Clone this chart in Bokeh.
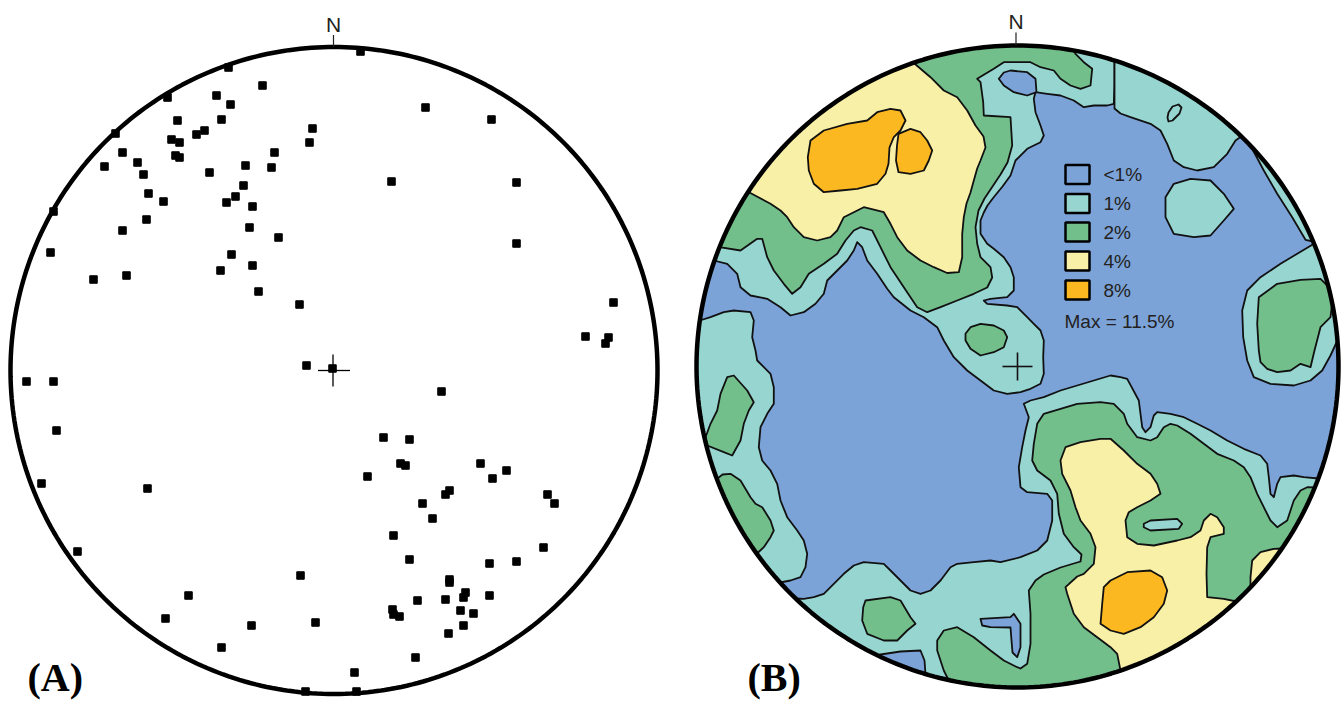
import math
import numpy as np
from bokeh.plotting import figure
from bokeh.models import Range1d, ColumnDataSource
from bokeh.core.properties import value
from bokeh.embed import file_html
from bokeh.resources import INLINE

# ---------------- geometry of the two nets (reference pixel space) ----------------
NET_A = (333.5, 370.0, 323.5)      # cx, cy, radius
NET_B = (1017.0, 366.0, 321.0)

# ---------------- panel A: poles ----------------
POLES_NW = [(262, 85), (216, 95), (230, 104), (177, 120), (221, 119), (204, 130), (196, 134),
            (171, 139), (179, 142), (175, 155), (179, 157), (312, 128), (309, 142), (122, 152),
            (104, 166), (137, 162), (143, 174), (209, 172), (245, 165), (274, 152), (271, 167),
            (243, 185), (235, 196), (226, 202), (252, 206), (148, 193), (163, 201), (146, 219),
            (249, 227), (278, 237), (122, 230), (50, 252), (231, 254), (252, 265), (220, 270),
            (93, 279), (126, 275), (258, 291), (299, 304), (228, 67), (167, 97), (115, 133),
            (53, 211)]
POLES_NE = [(360, 51), (425, 107), (491, 119), (391, 181), (516, 182), (516, 243), (613, 302),
            (585, 336), (608, 337), (605, 343)]
POLES_SW = [(306, 365), (332, 368), (26, 381), (53, 381), (56, 430), (41, 483), (147, 488),
            (77, 551), (300, 575), (188, 595), (165, 618), (251, 625), (315, 622), (221, 647),
            (305, 691)]
POLES_SE = [(441, 391), (383, 437), (409, 439), (400, 463), (405, 465), (367, 476), (480, 463),
            (506, 470), (492, 478), (449, 490), (445, 494), (422, 503), (432, 518), (547, 494),
            (554, 503), (393, 535), (409, 559), (543, 547), (489, 563), (516, 561), (449, 579),
            (449, 582), (465, 592), (463, 597), (417, 600), (445, 599), (489, 595), (392, 609),
            (399, 616), (393, 614), (460, 610), (473, 613), (463, 625), (448, 633), (415, 657),
            (354, 672), (356, 691)]

# ---------------- panel B: contour levels ----------------
LEVELS = ["<1%", "1%", "2%", "4%", "8%"]
LEVEL_COLORS = ["#7ba3d8", "#97d5d0", "#72bf8b", "#f9f0a8", "#fbb820"]
MAX_LABEL = "Max = 11.5%"

TEAL_A = [(713.3, 260), (726.7, 263.3), (736.7, 273.3), (740, 286.7), (750, 295), (766.7, 298.3),
          (780, 306.7), (790, 315), (803.3, 311.7), (815, 303.3), (823.3, 293.3), (826.7, 280),
          (836.7, 270), (846.7, 260), (853.3, 250), (856.7, 241.7), (861.7, 246.7), (866.7, 260),
          (876.7, 273.3), (886.7, 288.3), (893.3, 296.7), (910, 310), (923.3, 316.7), (936.7, 326.7),
          (943.3, 340), (953.3, 356.7), (966.7, 370), (980, 380), (993.3, 390), (1006.7, 393.3),
          (1020, 391.7), (1030, 388.3), (1040, 383.3), (1043.3, 373.3), (1042.7, 356.7),
          (1043.3, 340), (1040, 330), (1033.3, 323.3), (1026.7, 316.7), (1016.7, 306.7),
          (1006.7, 305), (986.7, 303.3), (983.3, 300), (990, 298.3), (1006.7, 296.7), (1013.3, 290),
          (1013.3, 276.7), (1010, 266.7), (1003.3, 256.7), (993.3, 248.3), (986.7, 243.3),
          (980, 233.3), (980, 220), (983.3, 212), (987, 205), (993, 197), (1002, 186), (1010, 175),
          (1015, 160), (1026.7, 148.3), (1040, 141.7), (1043.3, 135), (1040, 125), (1035, 111.7),
          (1033.3, 98.3), (1035, 91.7), (1046.7, 93.3), (1060, 95), (1073.3, 100), (1083.3, 106.7),
          (1093.3, 105), (1106.7, 105), (1113.3, 103.3), (1114, 85), (1114, 60)]
TEAL_B = [(1114, 60), (1114, 85), (1114, 108), (1120, 113), (1130, 116.7), (1150, 123.3),
          (1160, 130), (1166.7, 143.3), (1173.3, 160), (1183.3, 166.7), (1196.7, 170),
          (1213.3, 166.7), (1226.7, 153.3), (1235, 140), (1240, 136.5)]
TEAL_B_DROP = [(1168, 112), (1172, 106), (1178, 104), (1181, 107), (1179, 113), (1172, 120),
               (1168, 121), (1167, 117)]
TEAL_C = [(1165, 196.7), (1173.3, 183.3), (1190, 178.3), (1210, 180), (1223.3, 193.3),
          (1233.3, 208.3), (1223.3, 220), (1210, 235), (1193.3, 236.7), (1173.3, 233.3), (1165, 216.7)]
TEAL_D = [(1250.5, 146), (1263.3, 170), (1276.7, 193.3), (1291.7, 216.7), (1305, 239.3),
          (1312.7, 241)]
TEAL_E = [(1313.5, 243.3), (1296.7, 253.3), (1280, 263.3), (1260, 276.7), (1246.7, 290),
          (1241.7, 310), (1242.7, 336.7), (1246.7, 360), (1253.3, 376.7), (1270, 383.3),
          (1293.3, 385), (1310, 380), (1321.7, 370), (1330, 355), (1336.9, 340)]
TEAL_F = [(795.5, 598), (803.3, 598.3), (813.3, 596.7), (823.3, 593.3), (833.3, 583.3),
          (843.3, 573.3), (853.3, 565), (863.3, 561.7), (883.3, 563.3), (890, 570), (900, 580),
          (910, 590), (920, 593.3), (930, 590), (940, 580), (950, 566.7), (956.7, 563.3),
          (973.3, 561.7), (990, 560), (1000, 561.7), (1020, 556.7), (1036.7, 550), (1046.7, 540),
          (1051.7, 520), (1051.7, 500), (1046.7, 493.3), (1026.7, 491.7), (1020, 486.7),
          (1018.3, 466.7), (1021.7, 446.7), (1025, 430), (1028.3, 416.7), (1023.3, 403.3),
          (1030, 400), (1043.3, 396.7), (1060, 390), (1076.7, 385), (1093.3, 380), (1110, 375),
          (1120, 376.7), (1126.7, 378.3), (1138.3, 400), (1141.7, 426.7), (1145, 431.7),
          (1150, 426.7), (1153.3, 415), (1156.7, 411.7), (1170, 413.3), (1183.3, 416.7),
          (1196.7, 423.3), (1210, 430), (1226.7, 440), (1243.3, 448.3), (1260, 455),
          (1266.7, 463.3), (1268.3, 476.7), (1270, 493.3), (1273.3, 496.7), (1276.7, 483.3),
          (1280, 476.7), (1293.3, 475), (1303.3, 476.7), (1318, 478)]
TEAL_L = [(699.3, 320), (710, 316.7), (723.3, 311.7), (733.3, 310), (750, 311.7), (753.3, 320),
          (751.7, 336.7), (755, 350), (756.7, 360), (770, 373.3), (773.3, 386.7), (773.3, 403.3),
          (766.7, 413.3), (760, 426.7), (758.3, 446.7), (761.7, 460), (770, 470), (776.7, 483.3),
          (780, 500), (786.7, 516.7), (796.7, 530), (803.3, 540), (806.7, 553.3), (805, 566.7),
          (800, 576.7), (790, 580), (779.5, 582)]
BLUE_N = [(998.3, 78.3), (1003.3, 72), (1010, 70), (1026.7, 71.7), (1035, 78.3), (1036, 91.7),
          (1026.7, 95), (1013.3, 91.7), (1003.3, 85)]
BLUE_L = [(980, 618.3), (1010, 616.7), (1013.3, 613.3), (1020, 623.3), (1020, 646.7),
          (1016.7, 656.7), (1012, 652), (1011, 640), (1010, 627), (990, 626.7), (981.7, 625)]
BLUE_S = [(876.5, 654.6), (880, 654), (900, 651), (920, 650), (924, 660), (925, 673.5)]
GREEN_A = [(1073.3, 50), (1075, 53.3), (1083.3, 61.7), (1091.7, 68.3), (1090, 85), (1080, 88.3),
           (1070, 85), (1060, 78.3), (1053.3, 70), (1040, 66.7), (1030, 61.7), (1003.3, 61.7),
           (993.3, 68.3), (976.7, 78.3), (980, 81.7), (982.7, 101.7), (983.3, 115), (1010, 116.7),
           (1011.7, 145), (1007, 162), (1000, 174), (992, 186), (984, 198), (978, 210),
           (975, 226.7), (976.7, 243.3), (980, 256.7), (990, 266.7), (991.7, 277), (986.7, 287),
           (973.3, 293.3), (956.7, 300), (940, 306.7), (926.7, 311.7), (916.7, 306.7),
           (903.3, 286.7), (890, 266.7), (880, 246.7), (871.7, 230), (860, 226.7), (853.3, 230),
           (845, 240), (836.7, 253.3), (823.3, 263.3), (808.3, 273.3), (800, 286.7),
           (791.7, 293.3), (783.3, 283.3), (773.3, 270), (766.7, 256.7), (761.7, 238.3),
           (756.7, 238.3), (740, 250), (719, 246.7)]
GREEN_X = [(965, 333.3), (970, 326.7), (980, 323.3), (993.3, 325), (1003.3, 330), (1006.7, 336.7),
           (1003.3, 346.7), (993.3, 351.7), (980, 355), (970, 348.3), (965, 340)]
GREEN_E = [(1258.3, 296.7), (1276.7, 283.3), (1300, 279.3), (1320, 278.3), (1328.3, 286.7),
           (1332, 300), (1330, 316.7), (1320, 326.7), (1314, 350), (1310, 366.7), (1300, 363.3),
           (1290, 370), (1276.7, 371.7), (1266.7, 368.3), (1260, 361.7), (1258.3, 350),
           (1256.7, 323.3)]
GREEN_F = [(865, 600), (890, 596.7), (900, 600), (910, 616.7), (915, 623.3), (906.7, 630),
           (896.7, 640), (883.3, 640), (866.7, 633.3), (861.7, 620), (862.7, 606.7)]
GREEN_G = [(948, 679.5), (943.3, 670), (936.7, 650), (936.7, 640), (943.3, 630), (956.7, 626.7),
           (973.3, 636.7), (990, 650), (1003.3, 660), (1016.7, 666.7), (1020, 668),
           (1026.7, 663.3), (1030, 643.3), (1030, 613.3), (1028.3, 590), (1035, 580),
           (1043.3, 574), (1060, 567), (1080, 561), (1081, 554), (1073.3, 546.7), (1063.3, 533.3),
           (1058.3, 513.3), (1056.7, 493.3), (1050, 480), (1036.7, 470), (1031.7, 460),
           (1033.3, 443.3), (1036.7, 423.3), (1043.3, 413.3), (1060, 408.3), (1076.7, 403.3),
           (1100, 401.7), (1113.3, 403.3), (1123.3, 413.3), (1126.7, 423.3), (1136.7, 436.7),
           (1150, 440), (1156.7, 436.7), (1163.3, 426.7), (1170, 423.3), (1176.7, 425),
           (1190, 433.3), (1203.3, 443.3), (1216.7, 453.3), (1233.3, 460), (1243.3, 466.7),
           (1250, 476.7), (1256.7, 493.3), (1263.3, 506.7), (1270, 520), (1276.7, 526.7),
           (1286.7, 520), (1293.3, 500), (1300, 490), (1306.7, 486.7), (1314.5, 487)]
GREEN_L1 = [(726.7, 376.7), (733.3, 375), (746.7, 390), (753.3, 401.7), (748.3, 410),
            (743.3, 423.3), (740, 440), (731.7, 455), (723.3, 451.7), (706.7, 445), (705, 436.7),
            (710, 423.3), (716.7, 410), (720, 393.3)]
GREEN_L2 = [(717, 478), (722, 474), (730, 473.3), (740, 480), (750, 496.7), (755, 503.3),
            (761.7, 506.7), (770, 520), (773.3, 530), (770, 536.7), (763.3, 546.7), (756.5, 553)]
TEAL_OVAL = [(1143.3, 523.3), (1150, 520), (1176.7, 518.3), (1181.7, 523.3), (1178.3, 528.3),
             (1150, 530), (1143.3, 526.7)]
YELLOW_A = [(913.3, 62.5), (930, 76.7), (943.3, 90), (956.7, 96.7), (966.7, 110), (975, 125),
            (983, 136), (985, 147), (980, 160), (976.7, 168), (973.3, 180), (970, 192), (966, 203),
            (963.3, 216.7), (961.7, 233.3), (961.7, 256.7), (958.3, 271.7), (946.7, 272.5),
            (933.3, 266.7), (920, 260), (906.7, 250), (896.7, 236.7), (890, 223.3), (883.3, 211.7),
            (863.3, 206.7), (853.3, 211.7), (843.3, 216.7), (836.7, 230), (830, 236.7),
            (816.7, 240), (803.3, 236.7), (793.3, 226.7), (786.7, 216.7), (780, 210),
            (770, 203.3), (748, 191.5)]
YELLOW_G = [(1120, 670), (1116.7, 653.3), (1110, 646.7), (1096.7, 636.7), (1083.3, 626.7),
            (1073.3, 613.3), (1066.7, 593.3), (1065, 586.7), (1076.7, 576), (1083.3, 573.3),
            (1093.3, 563.3), (1095, 546.7), (1090, 533.3), (1080, 520), (1075, 506.7), (1070, 490),
            (1061.7, 473.3), (1060, 460), (1065, 446.7), (1080, 441.7), (1100, 438.3),
            (1110, 438.3), (1123.3, 450), (1136.7, 463.3), (1150, 473.3), (1156.7, 483.3),
            (1160, 493.3), (1150, 500), (1136.7, 506.7), (1128.3, 511.7), (1125, 520),
            (1126.7, 536.7), (1136.7, 543.3), (1153.3, 545), (1176.7, 540), (1190, 536.7),
            (1200, 530), (1203.3, 520), (1210, 513.3), (1216.7, 516.7), (1223.3, 526.7),
            (1223.3, 533.3), (1210, 536.7), (1206.7, 546.7), (1206, 573.3), (1206.7, 596.7),
            (1223.3, 598.3), (1236, 601)]
YELLOW_R = [(1250, 587), (1250, 576.7), (1251.7, 560), (1260, 551.7), (1273.3, 548.3),
            (1281.4, 548)]
ORANGE_A1 = [(810, 140), (823.3, 130), (846.7, 123.3), (866.7, 120), (876.7, 111.7), (890, 108.3),
             (900, 110), (905, 120), (900, 130), (893.3, 136.7), (889, 147), (888, 163.3),
             (885, 173.3), (876.7, 183.3), (856.7, 188.3), (840, 190), (823.3, 191.7),
             (813.3, 183.3), (808.3, 170), (807.3, 156.7)]
ORANGE_A2 = [(898, 133.3), (910, 128.3), (920, 131.7), (926.7, 140), (931.7, 150), (928.3, 160),
             (923.3, 170), (910, 173.3), (898, 171.7), (895.5, 160), (896.5, 145)]
ORANGE_G = [(1103.3, 586.7), (1110, 580), (1126.7, 571.7), (1150, 570), (1161.7, 576.7),
            (1166.7, 590), (1163.3, 603.3), (1153.3, 616.7), (1140, 626.7), (1123.3, 633.3),
            (1110, 630), (1100, 623.3), (1101.7, 603.3)]

# drawing order: (outline points, level, closing sweep along the rim: +1 cw, -1 ccw, 0 closed)
LAYERS = [
    (TEAL_A, "1%", -1), (TEAL_B, "1%", -1), (TEAL_B_DROP, "1%", 0), (TEAL_C, "1%", 0),
    (TEAL_D, "1%", -1), (TEAL_E, "1%", -1), (TEAL_F, "1%", 1), (TEAL_L, "1%", 1),
    (BLUE_N, "<1%", 0), (BLUE_L, "<1%", 0), (BLUE_S, "<1%", 1),
    (GREEN_A, "2%", 1), (GREEN_X, "2%", 0), (GREEN_E, "2%", 0), (GREEN_F, "2%", 0),
    (GREEN_G, "2%", 1), (GREEN_L1, "2%", 0), (GREEN_L2, "2%", 1),
    (TEAL_OVAL, "1%", 0),
    (YELLOW_A, "4%", 1), (YELLOW_G, "4%", 1), (YELLOW_R, "4%", 1),
    (ORANGE_A1, "8%", 0), (ORANGE_A2, "8%", 0), (ORANGE_G, "8%", 0),
]


def ring(net, extra=0.0, n=361):
    cx, cy, r = net
    t = np.linspace(0, 2 * np.pi, n)
    return list(cx + (r + extra) * np.cos(t)), list(cy + (r + extra) * np.sin(t))


def closed_outline(pts, net, sweep):
    cx, cy, r = net
    xs = [p[0] for p in pts]
    ys = [p[1] for p in pts]
    if sweep:
        a0 = math.atan2(pts[-1][1] - cy, pts[-1][0] - cx)
        a1 = math.atan2(pts[0][1] - cy, pts[0][0] - cx)
        if sweep > 0:
            while a1 <= a0:
                a1 += 2 * math.pi
        else:
            while a1 >= a0:
                a1 -= 2 * math.pi
        for a in np.linspace(a0, a1, 60):
            xs.append(cx + (r + 14) * math.cos(a))
            ys.append(cy + (r + 14) * math.sin(a))
    return xs, ys


p = figure(width=1341, height=702, output_backend="svg", toolbar_location=None,
           x_range=Range1d(0, 1341), y_range=Range1d(702, 0),
           x_axis_type=None, y_axis_type=None, min_border=0)
p.outline_line_color = None
p.grid.visible = False
p.background_fill_color = "white"
p.border_fill_color = "white"

FONT = value("Liberation Sans")
INK = "#231f20"

# ---------------- panel A ----------------
pts_a = POLES_NW + POLES_NE + POLES_SW + POLES_SE
p.scatter([q[0] for q in pts_a], [q[1] for q in pts_a], marker="square", size=7.5,
          color="black")
ax, ay, ar = NET_A
p.segment(x0=[ax - 16, ax - 1], y0=[ay, ay - 16], x1=[ax + 16, ax - 1], y1=[ay, ay + 16],
          line_color="black", line_width=1.3)
cxs, cys = ring(NET_A)
p.line(cxs, cys, line_color="black", line_width=4.5)
p.segment(x0=[ax - 0.5], y0=[ay - ar - 12], x1=[ax - 0.5], y1=[ay - ar], line_color=INK,
          line_width=1.2)
p.text(x=[ax - 0.5], y=[23.5], text=["N"], text_font=FONT, text_font_size="21px",
       text_align="center", text_baseline="middle", text_color=INK)

# ---------------- panel B ----------------
bx, by, br = NET_B
bxs, bys = ring(NET_B)
p.patch(bxs, bys, fill_color=LEVEL_COLORS[0], line_color=None)

pxs, pys, pcols = [], [], []
for pts, lev, sweep in LAYERS:
    xs, ys = closed_outline(pts, NET_B, sweep)
    pxs.append(xs)
    pys.append(ys)
    pcols.append(LEVEL_COLORS[LEVELS.index(lev)])
p.patches("xs", "ys", source=ColumnDataSource(dict(xs=pxs, ys=pys, c=pcols)),
          fill_color="c", line_color="#111111", line_width=1.8, line_join="round")

p.segment(x0=[bx - 15, bx], y0=[by, by - 14], x1=[bx + 15, bx], y1=[by, by + 14],
          line_color="#111111", line_width=1.6)

# white mask outside net B
mx = [672, 1360, 1360, 672]
my = [0, 0, 705, 705]
hx, hy = ring(NET_B, extra=0.0)
p.multi_polygons(xs=[[[mx, hx[::-1]]]], ys=[[[my, hy[::-1]]]], fill_color="white",
                 line_color=None)
p.line(bxs, bys, line_color="black", line_width=4.5)
p.segment(x0=[bx - 1.5], y0=[by - br - 13], x1=[bx - 1.5], y1=[by - br], line_color=INK,
          line_width=1.2)
p.text(x=[bx - 1.5], y=[20.5], text=["N"], text_font=FONT, text_font_size="21px",
       text_align="center", text_baseline="middle", text_color=INK)

# legend
LEG_X = 1077
LEG_Y = [174, 203, 231.5, 260.5, 289.5]
p.quad(left=[LEG_X - 12] * 5, right=[LEG_X + 12] * 5, top=[y - 9.5 for y in LEG_Y],
       bottom=[y + 9.5 for y in LEG_Y], fill_color=LEVEL_COLORS, line_color="black",
       line_width=2.5)
p.text(x=[1103] * 5, y=LEG_Y, text=LEVELS, text_font=FONT, text_font_size="19px",
       text_align="left", text_baseline="middle", text_color=INK)
p.text(x=[1064], y=[321], text=[MAX_LABEL], text_font=FONT, text_font_size="19px",
       text_align="left", text_baseline="middle", text_color=INK)

# panel labels
p.text(x=[27, 747], y=[677, 677], text=["(A)", "(B)"], text_font=value("Liberation Serif"),
       text_font_style="bold", text_font_size="40px", text_align="left",
       text_baseline="middle", text_color="black")

open("out.html", "w").write(file_html(p, INLINE))
